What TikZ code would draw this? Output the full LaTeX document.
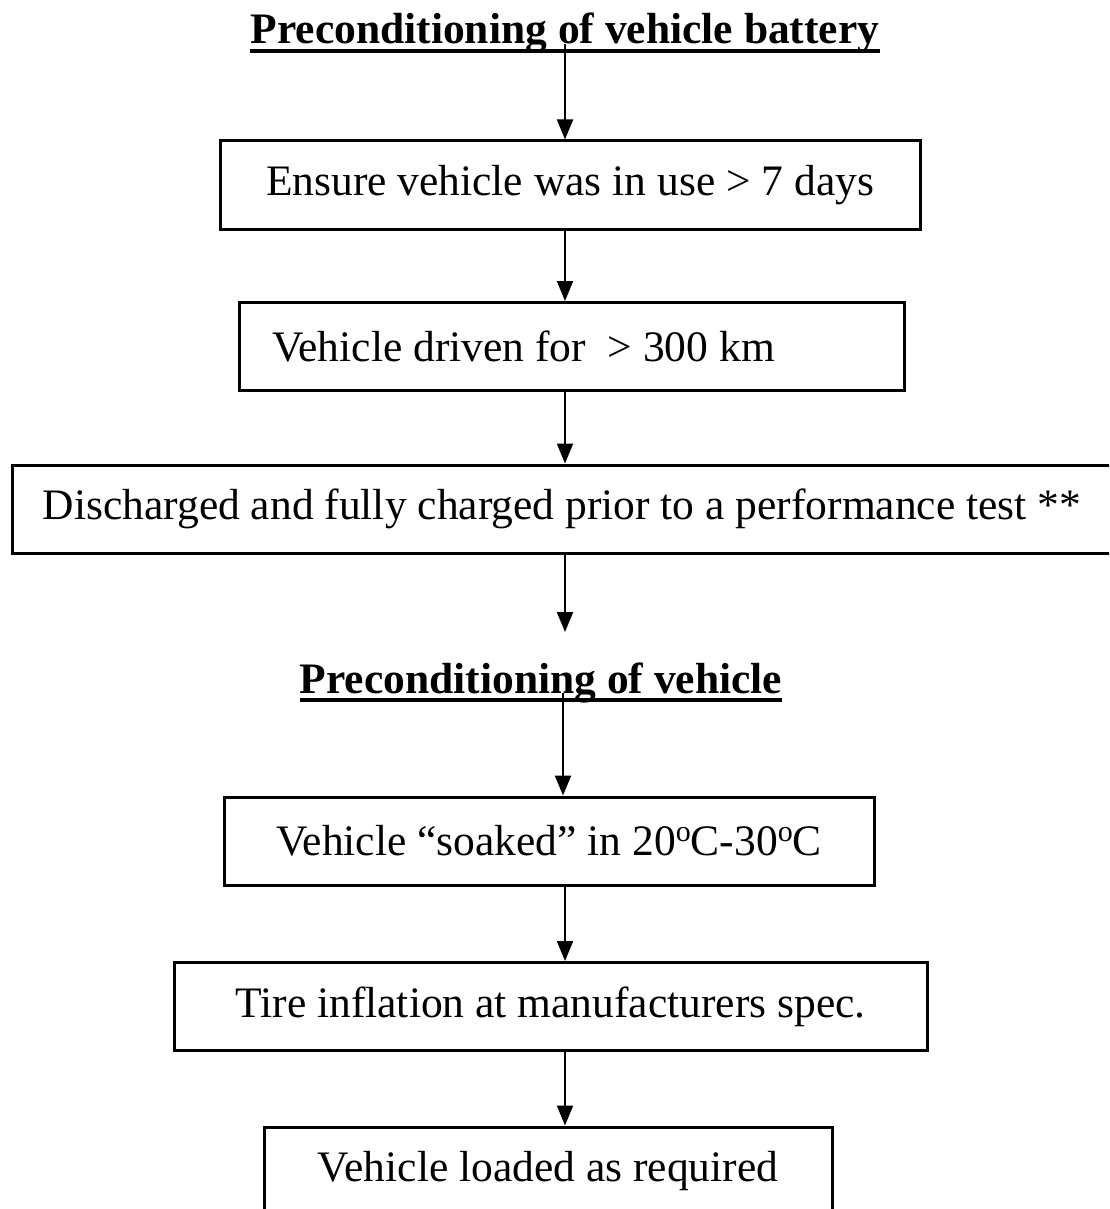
\documentclass[tikz,border=0pt]{standalone}
\usepackage{fontspec}
\setmainfont{Liberation Serif}
\usetikzlibrary{arrows.meta}
\newcommand\degsym{\raisebox{14pt}{\fontsize{30}{30}\selectfont o}}
\tikzset{
  stepbox/.style={draw=black, line width=3pt, fill=white, minimum height=88pt, inner sep=0pt, font=\fontsize{43.5}{50}\selectfont},
  ttl/.style={inner sep=0pt, anchor=base, font=\fontsize{43.5}{50}\selectfont\bfseries},
  uline/.style={line width=3.5pt},
  arr/.style={line width=2pt, -{Triangle[length=20pt,width=16pt]}}
}
\begin{document}
\begin{tikzpicture}[x=1pt,y=-1pt]
\clip (0,0) rectangle (1109,1209);
\fill[white] (0,0) rectangle (1109,1209);
\coordinate (xa) at (565,0);
\coordinate (xb) at (563,0);
% titles
\node[ttl] (t1) at (565,44) {Preconditioning of vehicle battery};
\draw[uline] ([yshift=-7pt]t1.base west) -- ([yshift=-7pt]t1.base east);
\node[ttl] (t2) at (541,693) {Preconditioning of vehicle};
\draw[uline] ([yshift=-7pt]t2.base west) -- ([yshift=-7pt]t2.base east);
% boxes
\node[stepbox, minimum width=700pt] (b1) at (570,185) {Ensure vehicle was in use > 7 days};
\node[stepbox, inner xsep=33pt] (b2) at (571.5,346.5) {\makebox[599pt][l]{Vehicle driven for \ > 300 km}};
\node[stepbox, minimum width=1100pt] (b3) at (562,509) {Discharged and fully charged prior to a performance test **};
\node[stepbox, minimum width=650pt] (b5) at (549,841) {Vehicle “soaked” in 20\degsym C-30\degsym C};
\node[stepbox, minimum width=753pt] (b6) at (550.5,1006.5) {Tire inflation at manufacturers spec.};
\node[stepbox, minimum width=568pt] (b7) at (548,1171) {Vehicle loaded as required};
\coordinate (e3) at (565,632);
% connectors
\draw[arr] (t1.base -| xa) -- (b1.north -| xa);
\draw[arr] (b1.south -| xa) -- (b2.north -| xa);
\draw[arr] (b2.south -| xa) -- (b3.north -| xa);
\draw[arr] (b3.south -| xa) -- (e3);
\draw[arr] (t2.base -| xb) -- (b5.north -| xb);
\draw[arr] (b5.south -| xa) -- (b6.north -| xa);
\draw[arr] (b6.south -| xa) -- (b7.north -| xa);
\end{tikzpicture}
\end{document}
